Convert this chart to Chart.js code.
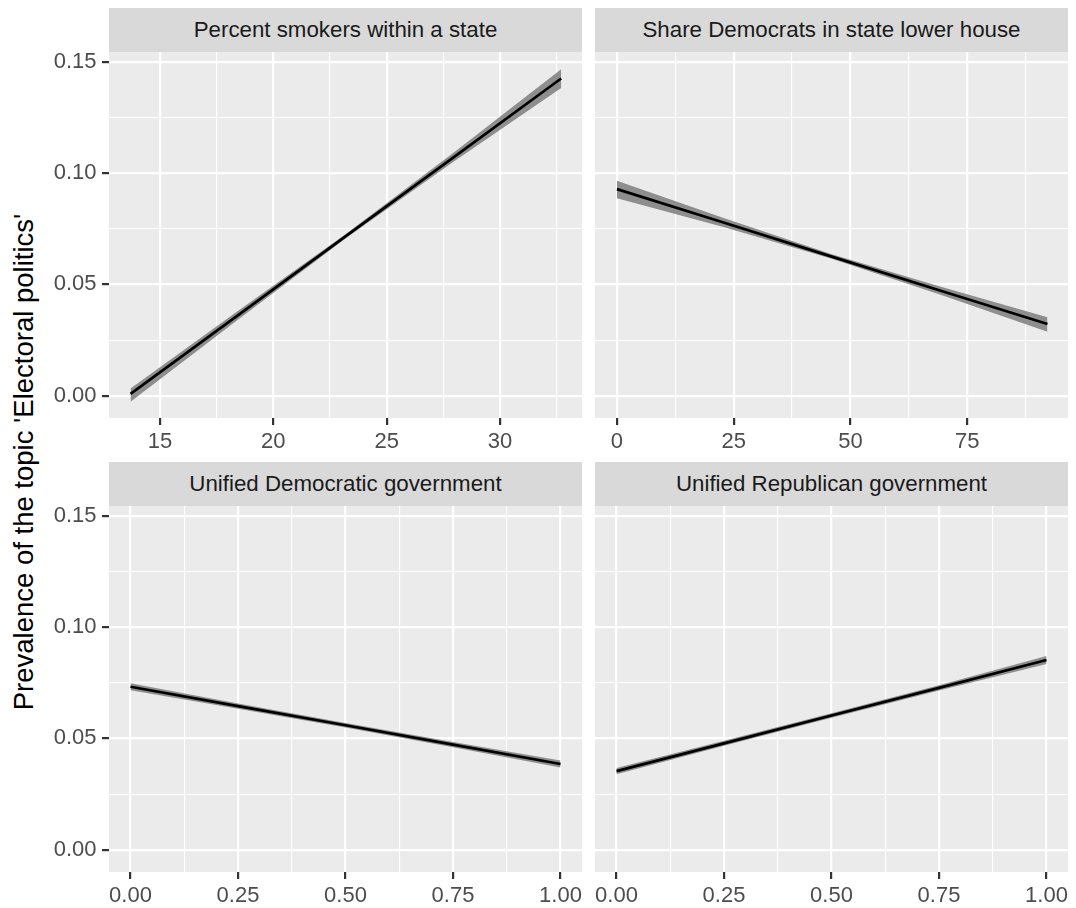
<!DOCTYPE html>
<html>
<head>
<meta charset="utf-8">
<script src="https://cdn.jsdelivr.net/npm/chart.js@4/dist/chart.umd.min.js"></script>
<style>
  html, body { margin: 0; padding: 0; background: #fff; }
  body { width: 1076px; height: 908px; position: relative; overflow: hidden; font-family: "Liberation Sans", Arial, sans-serif; }
  canvas { position: absolute; }
  .strip { position: absolute; background: #D9D9D9; color: #1A1A1A; font-size: 22.3px; display: flex; align-items: center; justify-content: center; z-index: 2; }
  .ytitle { position: absolute; white-space: nowrap; font-size: 27.5px; color: #000; transform: translate(-50%, -50%) rotate(-90deg); }
</style>
</head>
<body>
<div class="ytitle" id="ytitle">Prevalence of the topic 'Electoral politics'</div>
<script>
// facet titles
const panelTitles = ['Percent smokers within a state', 'Share Democrats in state lower house',
  'Unified Democratic government', 'Unified Republican government'];

// estimated effect + confidence band
const smokersX = [13.7, 18.45, 23.2, 27.95, 32.7];
const smokersFit = [0.0008, 0.0362, 0.0717, 0.1071, 0.1425];
const smokersLo = [-0.0027, 0.0342, 0.0707, 0.1051, 0.1382];
const smokersHi = [0.0033, 0.0382, 0.0727, 0.1091, 0.1467];

const demsX = [0, 23, 46, 69, 92.2];
const demsFit = [0.0928, 0.0777, 0.0625, 0.0474, 0.0322];
const demsLo = [0.0887, 0.0757, 0.0615, 0.0456, 0.0287];
const demsHi = [0.0966, 0.0797, 0.0635, 0.0492, 0.0352];

const uniDemX = [0, 0.25, 0.5, 0.75, 1];
const uniDemFit = [0.0732, 0.0645, 0.0559, 0.0472, 0.0385];
const uniDemLo = [0.0716, 0.0633, 0.0549, 0.0460, 0.0369];
const uniDemHi = [0.0748, 0.0657, 0.0569, 0.0484, 0.0401];

const uniRepX = [0, 0.25, 0.5, 0.75, 1];
const uniRepFit = [0.0353, 0.0478, 0.0603, 0.0727, 0.0852];
const uniRepLo = [0.0339, 0.0467, 0.0593, 0.0715, 0.0834];
const uniRepHi = [0.0367, 0.0489, 0.0613, 0.0739, 0.0870];

// tick labels (major) and minor grid positions
const yTicks = [0, 0.05, 0.10, 0.15];
const yMinor = [0.025, 0.075, 0.125];
const smokersTicks = [15, 20, 25, 30];
const smokersMinor = [17.5, 22.5, 27.5, 32.5];
const demsTicks = [0, 25, 50, 75];
const demsMinor = [12.5, 37.5, 62.5, 87.5];
const unifiedTicks = [0, 0.25, 0.5, 0.75, 1];
const unifiedMinor = [0.125, 0.375, 0.625, 0.875];

// layout (pixels)
const colLeft = [109, 595];
const rowTop = [52, 506];
const plotW = 473, plotH = 366, stripH = 44;
const yAxisW = 109, padTop = 20, padRight = 30, xAxisH = 36;
const yRange = [-0.0100, 0.1544];

const panels = [
  { x: smokersX, fit: smokersFit, lo: smokersLo, hi: smokersHi, range: [12.75, 33.62], majors: smokersTicks, minors: smokersMinor, fmt: v => String(v) },
  { x: demsX, fit: demsFit, lo: demsLo, hi: demsHi, range: [-4.7, 96.6], majors: demsTicks, minors: demsMinor, fmt: v => String(v) },
  { x: uniDemX, fit: uniDemFit, lo: uniDemLo, hi: uniDemHi, range: [-0.05, 1.05], majors: unifiedTicks, minors: unifiedMinor, fmt: v => v.toFixed(2) },
  { x: uniRepX, fit: uniRepFit, lo: uniRepLo, hi: uniRepHi, range: [-0.05, 1.05], majors: unifiedTicks, minors: unifiedMinor, fmt: v => v.toFixed(2) }
];

Chart.defaults.font.family = '"Liberation Sans", Arial, sans-serif';
Chart.defaults.font.size = 22;
Chart.defaults.color = '#4D4D4D';

const isMajor = (v, majors) => majors.some(m => Math.abs(m - v) < 1e-9);
const allTicks = (majors, minors) => majors.concat(minors).sort((a, b) => a - b).map(v => ({ value: v }));

const panelBg = {
  id: 'panelBg',
  beforeDraw(chart) {
    const { ctx, chartArea: a } = chart;
    ctx.save();
    ctx.fillStyle = '#EBEBEB';
    ctx.fillRect(a.left, a.top, a.right - a.left, a.bottom - a.top);
    ctx.restore();
  }
};

const pts = (xs, ys) => xs.map((x, i) => ({ x: x, y: ys[i] }));

panels.forEach((p, i) => {
  const col = i % 2, row = Math.floor(i / 2);
  const left = colLeft[col], top = rowTop[row];

  const strip = document.createElement('div');
  strip.className = 'strip';
  strip.style.left = left + 'px';
  strip.style.top = (top - stripH) + 'px';
  strip.style.width = plotW + 'px';
  strip.style.height = stripH + 'px';
  strip.textContent = panelTitles[i];
  document.body.appendChild(strip);

  const canvas = document.createElement('canvas');
  canvas.width = yAxisW + plotW + padRight;
  canvas.height = padTop + plotH + xAxisH;
  canvas.style.left = (left - yAxisW) + 'px';
  canvas.style.top = (top - padTop) + 'px';
  document.body.appendChild(canvas);

  const showY = col === 0;

  new Chart(canvas, {
    type: 'line',
    data: {
      datasets: [
        { data: pts(p.x, p.fit), borderColor: '#000000', borderWidth: 2.7, pointRadius: 0, fill: false },
        { data: pts(p.x, p.hi), borderWidth: 0, borderColor: 'rgba(0,0,0,0)', backgroundColor: '#8E8E8E', pointRadius: 0, fill: '+1' },
        { data: pts(p.x, p.lo), borderWidth: 0, borderColor: 'rgba(0,0,0,0)', pointRadius: 0, fill: false }
      ]
    },
    options: {
      responsive: false,
      animation: false,
      devicePixelRatio: 1,
      layout: { padding: { top: padTop, right: padRight, left: 0, bottom: 0 } },
      plugins: { legend: { display: false }, tooltip: { enabled: false } },
      scales: {
        x: {
          type: 'linear',
          min: p.range[0], max: p.range[1],
          afterBuildTicks: s => { s.ticks = allTicks(p.majors, p.minors); },
          afterFit: s => { s.height = xAxisH; },
          border: { display: false },
          grid: {
            color: '#FFFFFF',
            lineWidth: c => isMajor(c.tick.value, p.majors) ? 2.2 : 1.1,
            tickColor: c => isMajor(c.tick.value, p.majors) ? '#333333' : 'rgba(0,0,0,0)',
            tickWidth: 2.2,
            tickLength: 7
          },
          ticks: {
            autoSkip: false, maxRotation: 0, padding: 4,
            callback: v => isMajor(v, p.majors) ? p.fmt(v) : ''
          }
        },
        y: {
          type: 'linear',
          min: yRange[0], max: yRange[1],
          afterBuildTicks: s => { s.ticks = allTicks(yTicks, yMinor); },
          afterFit: s => { s.width = yAxisW; },
          border: { display: false },
          grid: {
            color: '#FFFFFF',
            lineWidth: c => isMajor(c.tick.value, yTicks) ? 2.2 : 1.1,
            tickColor: c => isMajor(c.tick.value, yTicks) ? '#333333' : 'rgba(0,0,0,0)',
            tickWidth: 2.2,
            tickLength: 7,
            drawTicks: showY
          },
          ticks: {
            display: showY, autoSkip: false, padding: 5.5,
            callback: v => isMajor(v, yTicks) ? v.toFixed(2) : ''
          }
        }
      }
    },
    plugins: [panelBg]
  });
});

const t = document.getElementById('ytitle');
t.style.left = '24px';
t.style.top = ((rowTop[0] + rowTop[1] + plotH) / 2) + 'px';
</script>
</body>
</html>
